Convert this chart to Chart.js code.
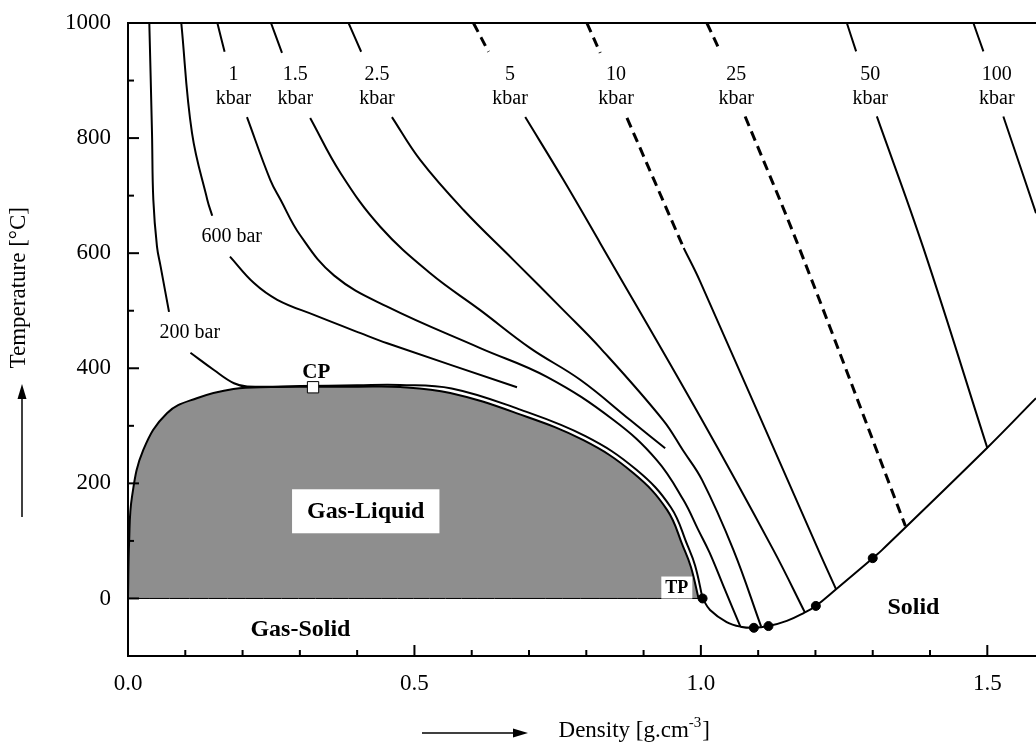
<!DOCTYPE html>
<html lang="en">
<head>
  <meta charset="UTF-8">
  <title>Water: Temperature vs Density</title>
  <script src="https://cdn.jsdelivr.net/npm/chart.js"></script>
  <style>
    * { box-sizing: border-box; margin: 0; padding: 0; }
    body { background: #fff; width: 1036px; height: 742px; overflow: hidden; }
    #chart-container { position: relative; width: 1036px; height: 742px; }
  </style>
</head>
<body>
  <div id="chart-container">
    <canvas id="phaseChart"></canvas>
  </div>

  <script>
    // Values: [density g/cm3, temperature °C]
    const coexistence = [[0,0],[0.002,100],[0.007,177],[0.0267,258],[0.068,322],
      [0.12,348],[0.184,364],[0.25,367.5],[0.322,368],[0.40,368],[0.475,367.5],[0.5625,357],[0.679,321.7],
      [0.795,275],[0.882,218],[0.941,154],[0.969,90],[0.9825,55],[0.996,0]];
    const gasSolidLine = [[0,0],[0.996,0]];

    const p200Upper = [[0.0372,1000],[0.0419,809],[0.0442,693],[0.0506,611.5],[0.0569,577],[0.0716,498]];
    const p200Lower = [[0.109,427],[0.150,397],[0.185,374],[0.208,368.5],[0.30,369],[0.40,370.5],[0.475,371],
      [0.565,365],[0.682,329],[0.7985,282],[0.887,224],[0.9475,158.5],[0.9765,92.6],[0.990,57],[1.003,0]];
    const p600Upper = [[0.093,1000],[0.1117,809],[0.1384,693],[0.147,665]];
    const p600Lower = [[0.178,594],[0.2199,548],[0.2606,519],[0.3246,492.7],[0.406,461],[0.4525,443.5],[0.679,367]];
    const p1000Upper = [[0.156,1000],[0.1686,950]];
    const p1000Lower = [[0.2077,836.5],[0.2483,727.5],[0.2663,693],[0.30,632],[0.36,561],[0.4525,507],[0.6148,435],
      [0.7312,385],[0.8475,310],[0.923,240.5],[0.9696,171],[0.995,120],[1.015,80],[1.04,20],[1.069,-49]];
    const p1500Upper = [[0.2496,1000],[0.2688,948]];
    const p1500Lower = [[0.318,835],[0.3712,739],[0.4403,646],[0.5276,565],[0.6148,501],[0.7021,435],
      [0.7894,380],[0.8766,310],[0.9377,261]];
    const p2500Upper = [[0.385,1000],[0.407,950]];
    const p2500Lower = [[0.4607,836.5],[0.510,762],[0.5857,675],[0.673,588],[0.760,501],[0.8246,435],
      [0.934,310],[0.969,257],[1.002,206],[1.0569,84],[1.1052,-49]];
    const p5kUpper = [[0.603,1000],[0.6293,950]];
    const p5kLower = [[0.6934,836.5],[0.760,727.5],[0.8243,617.4],[0.9988,315.8],[1.1267,84],[1.182,-25]];
    const p10kUpper = [[0.801,1000],[0.8243,948]];
    const p10kDashed = [[0.871,835],[0.970,609]];
    const p10kSolid = [[0.970,609],[0.9988,550.6],[1.2052,84],[1.236,16]];
    const p25kUpper = [[1.0105,1000],[1.0337,950.6]];
    const p25kLower = [[1.0773,837.6],[1.173,605.7],[1.357,126]];
    const p50kUpper = [[1.2548,1000],[1.271,950.6]];
    const p50kLower = [[1.3072,837.6],[1.3885,608.7],[1.5002,261]];
    const p100kUpper = [[1.4757,1000],[1.4932,950.6]];
    const p100kLower = [[1.528,837.6],[1.585,669.6]];

    const meltingCurve = [[1.003,0],[1.016,-20],[1.045,-41],[1.069,-49],[1.0925,-51],[1.118,-48],[1.150,-39],
      [1.180,-25],[1.2007,-13],[1.236,16],[1.300,70],[1.316,84],[1.4991,261],[1.585,348]];
    const meltingDots = [[1.003,0],[1.0925,-51],[1.118,-48],[1.2007,-13],[1.300,70]];
    const criticalPoint = [[0.323,367]];

    // isobar labels (two rows: value, "kbar")
    const kbarNames = ['1','1.5','2.5','5','10','25','50','100'];
    const kbarNameX = [0.184,0.292,0.4346,0.667,0.852,1.0616,1.2955,1.5166];

    const SERIF = "'Liberation Serif', 'Times New Roman', serif";
    const toXY = pts => pts.map(([x, y]) => ({ x, y }));

    function curve(pts, dashed) {
      return {
        data: toXY(pts),
        borderColor: '#000',
        borderWidth: dashed ? 3 : 2,
        borderDash: dashed ? [10, 6] : [],
        pointRadius: 0,
        fill: false,
        tension: 0.4,
        order: 2
      };
    }

    const datasets = [
      {
        data: toXY(coexistence),
        borderColor: '#000',
        borderWidth: 2,
        backgroundColor: '#8e8e8e',
        fill: { value: 0 },
        pointRadius: 0,
        tension: 0.4,
        order: 3
      },
      Object.assign(curve(gasSolidLine), { borderWidth: 1 }),
      curve(p200Upper), curve(p200Lower),
      curve(p600Upper), curve(p600Lower),
      curve(p1000Upper), curve(p1000Lower),
      curve(p1500Upper), curve(p1500Lower),
      curve(p2500Upper), curve(p2500Lower),
      curve(p5kUpper, true), curve(p5kLower),
      curve(p10kUpper, true), curve(p10kDashed, true), curve(p10kSolid),
      curve(p25kUpper, true), curve(p25kLower, true),
      curve(p50kUpper), curve(p50kLower),
      curve(p100kUpper), curve(p100kLower),
      curve(meltingCurve),
      {
        data: toXY(meltingDots),
        showLine: false,
        pointRadius: 4.5,
        pointBackgroundColor: '#000',
        pointBorderColor: '#000',
        order: 0
      },
      {
        data: toXY(criticalPoint),
        showLine: false,
        pointStyle: 'rect',
        pointRadius: 8,
        pointBackgroundColor: '#fff',
        pointBorderColor: '#000',
        pointBorderWidth: 1,
        order: 0
      }
    ];

    const isHalf = v => Math.abs(v * 2 - Math.round(v * 2)) < 1e-6;

    // text, ticks pointing inward, frame top, axis titles with arrows
    const decor = {
      id: 'decor',
      afterDraw(chart) {
        const { ctx, chartArea: a, scales: { x, y } } = chart;
        const px = v => x.getPixelForValue(v);
        const py = v => y.getPixelForValue(v);
        ctx.save();
        ctx.strokeStyle = '#000';
        ctx.fillStyle = '#000';
        ctx.lineWidth = 2;

        ctx.beginPath();
        ctx.moveTo(a.left - 1, a.top);
        ctx.lineTo(a.right, a.top);
        ctx.stroke();

        x.ticks.forEach(t => {
          const len = isHalf(t.value) ? 11 : 6;
          const p = px(t.value);
          ctx.beginPath(); ctx.moveTo(p, a.bottom); ctx.lineTo(p, a.bottom - len); ctx.stroke();
        });
        y.ticks.forEach(t => {
          const len = t.value % 200 === 0 ? 11 : 6;
          const p = py(t.value);
          ctx.beginPath(); ctx.moveTo(a.left, p); ctx.lineTo(a.left + len, p); ctx.stroke();
        });

        ctx.textAlign = 'center';
        ctx.textBaseline = 'middle';
        const text = (s, xv, yv, font) => { ctx.font = font; ctx.fillText(s, px(xv), py(yv)); };

        const small = '20px ' + SERIF;
        kbarNames.forEach((n, i) => {
          text(n, kbarNameX[i], 910, small);
          text('kbar', kbarNameX[i], 868, small);
        });
        text('600 bar', 0.181, 629, small);
        text('200 bar', 0.108, 461, small);

        // boxed labels
        const boxed = (s, xv, yv, font, padX, h) => {
          ctx.font = font;
          const w = ctx.measureText(s).width + 2 * padX;
          const cx = px(xv), cy = py(yv);
          ctx.fillStyle = '#fff';
          ctx.fillRect(cx - w / 2, cy - h / 2, w, h);
          ctx.fillStyle = '#000';
          ctx.fillText(s, cx, cy + 1);
        };
        boxed('Gas-Liquid', 0.415, 151.5, 'bold 24px ' + SERIF, 15, 44);
        boxed('TP', 0.958, 19, 'bold 18px ' + SERIF, 4, 22);
        text('Gas-Solid', 0.301, -54, 'bold 24px ' + SERIF);
        text('Solid', 1.371, -16, 'bold 24px ' + SERIF);
        text('CP', 0.3286, 392, 'bold 21px ' + SERIF);

        // x axis title with superscript
        const big = '23px ' + SERIF, sup = '15px ' + SERIF;
        ctx.textAlign = 'left';
        ctx.font = big;
        const t1 = 'Density [g.cm', t3 = ']';
        const w1 = ctx.measureText(t1).width, w3 = ctx.measureText(t3).width;
        ctx.font = sup;
        const w2 = ctx.measureText('-3').width;
        const xEnd = 710, ty = 731;
        let xs = xEnd - (w1 + w2 + w3 + 1);
        ctx.font = big; ctx.fillText(t1, xs, ty);
        ctx.font = sup; ctx.fillText('-3', xs + w1, ty - 8);
        ctx.font = big; ctx.fillText(t3, xs + w1 + w2 + 1, ty);

        ctx.lineWidth = 1.5;
        ctx.beginPath(); ctx.moveTo(422, 733); ctx.lineTo(516, 733); ctx.stroke();
        ctx.beginPath(); ctx.moveTo(528, 733); ctx.lineTo(513, 728.5); ctx.lineTo(513, 737.5); ctx.closePath(); ctx.fill();

        // y axis title
        ctx.save();
        ctx.font = big;
        ctx.textAlign = 'center';
        const yl = 'Temperature [°C]';
        const wl = ctx.measureText(yl).width;
        ctx.translate(19, 207 + wl / 2);
        ctx.rotate(-Math.PI / 2);
        ctx.fillText(yl, 0, 0);
        ctx.restore();

        ctx.beginPath(); ctx.moveTo(22, 517); ctx.lineTo(22, 396); ctx.stroke();
        ctx.beginPath(); ctx.moveTo(22, 384); ctx.lineTo(17.5, 399); ctx.lineTo(26.5, 399); ctx.closePath(); ctx.fill();

        ctx.restore();
      }
    };

    new Chart(document.getElementById('phaseChart'), {
      type: 'line',
      data: { datasets },
      options: {
        responsive: true,
        maintainAspectRatio: false,
        animation: false,
        layout: { autoPadding: false, padding: { top: 23, right: 0, left: 0, bottom: 0 } },
        plugins: { legend: { display: false }, tooltip: { enabled: false } },
        scales: {
          x: {
            type: 'linear',
            min: 0,
            max: 1.585,
            grid: { display: false, drawTicks: false },
            border: { color: '#000', width: 2 },
            ticks: {
              stepSize: 0.1,
              autoSkip: false,
              includeBounds: false,
              maxRotation: 0,
              padding: 14,
              color: '#000',
              font: { family: SERIF, size: 23 },
              callback: v => isHalf(v) ? v.toFixed(1) : ''
            },
            afterFit: s => { s.height = 86; s.paddingLeft = 0; s.paddingRight = 0; }
          },
          y: {
            type: 'linear',
            min: -100,
            max: 1000,
            grid: { display: false, drawTicks: false },
            border: { color: '#000', width: 2 },
            ticks: {
              stepSize: 100,
              autoSkip: false,
              includeBounds: false,
              padding: 17,
              color: '#000',
              font: { family: SERIF, size: 23 },
              callback: v => v % 200 === 0 ? String(v) : ''
            },
            afterFit: s => { s.width = 128; s.paddingTop = 0; s.paddingBottom = 0; }
          }
        }
      },
      plugins: [decor]
    });
  </script>
</body>
</html>
